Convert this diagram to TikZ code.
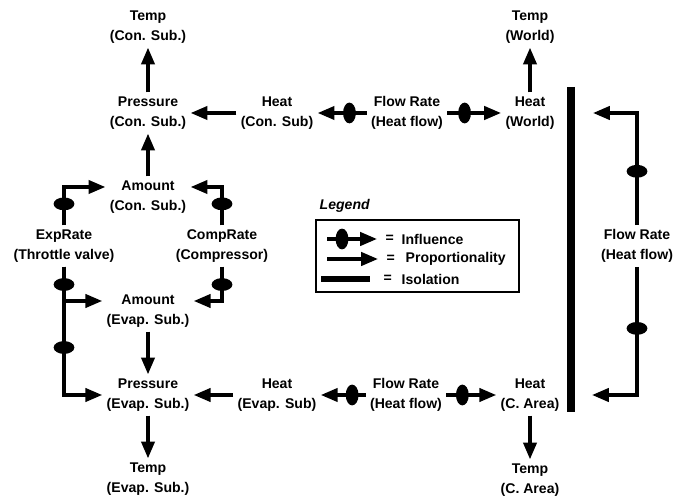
\documentclass[tikz,border=0pt]{standalone}
\usepackage{fontspec}
\setmainfont{Liberation Sans}
\usetikzlibrary{arrows.meta, shapes.geometric}

\begin{document}
\begin{tikzpicture}[
    x=0.025cm, y=0.025cm,
    lbl/.style={align=center, inner sep=3pt,
                font={\fontsize{10}{14}\selectfont\bfseries}},
    leg/.style={anchor=west, inner sep=1pt,
                font={\fontsize{10}{14}\selectfont\bfseries}},
    prop/.style={-{Triangle[length=0.42cm, width=0.33cm]}, line width=2.4pt},
    infl/.style={prop},
    blob/.style={ellipse, fill, sloped, inner sep=0pt,
                 minimum width=0.32cm, minimum height=0.52cm},
    iso/.style={line width=0.2cm}
  ]
  \useasboundingbox (0,0) rectangle (676,499);

  % Condenser substance
  \node[lbl] (tempc) at (148,472) {Temp\\(Con. Sub.)};
  \node[lbl] (presc) at (148,386) {Pressure\\(Con. Sub.)};
  \node[lbl] (heatc) at (277,386) {Heat\\(Con. Sub)};
  \node[lbl] (flowc) at (407,386) {Flow Rate\\(Heat flow)};
  \node[lbl] (heatw) at (530,386) {Heat\\(World)};
  \node[lbl] (tempw) at (530,472) {Temp\\(World)};
  \node[lbl] (amtc) at (148,302) {Amount\\(Con. Sub.)};

  % Valve and compressor
  \node[lbl] (exprt) at (64,253) {ExpRate\\(Throttle valve)};
  \node[lbl] (comprt) at (222,253) {CompRate\\(Compressor)};

  % Evaporator substance
  \node[lbl] (amte) at (148,188) {Amount\\(Evap. Sub.)};
  \node[lbl] (prese) at (148,104) {Pressure\\(Evap. Sub.)};
  \node[lbl] (tempev) at (148,20) {Temp\\(Evap. Sub.)};
  \node[lbl] (heate) at (277,104) {Heat\\(Evap. Sub)};
  \node[lbl] (flowe) at (406,104) {Flow Rate\\(Heat flow)};
  \node[lbl] (heata) at (530,104) {Heat\\(C. Area)};
  \node[lbl] (tempa) at (530,19) {Temp\\(C. Area)};

  % Outside flow
  \node[lbl] (flowr) at (637,253) {Flow Rate\\(Heat flow)};
  \coordinate (isotop) at (593,386);
  \coordinate (isobot) at (592,104);

  % Isolation wall
  \coordinate (bartop) at (571,412);
  \coordinate (barbot) at (571,87);
  \draw[iso] (bartop) -- (barbot);

  % Upper wiring
  \draw[prop] (presc) -- (tempc);
  \draw[prop] (amtc) -- (presc);
  \draw[prop] (heatc) -- (presc);
  \draw[infl] (flowc) -- node[blob, pos=0.35] {} (heatc);
  \draw[infl] (flowc) -- node[blob, pos=0.32] {} (heatw);
  \draw[prop] (heatw) -- (tempw);
  \draw[infl] (exprt.north) |- node[blob, pos=0.28] {} ([yshift=0.25cm]amtc.west);
  \draw[infl] (comprt.north) |- node[blob, pos=0.28] {} ([yshift=0.25cm]amtc.east);

  % Lower wiring
  \draw[infl] (exprt.south) |- node[blob, pos=0.26] {} ([yshift=0.25cm]amte.west);
  \draw[infl] (exprt.south) |- node[blob, pos=0.315] {} (prese.west);
  \draw[infl] (comprt.south) |- node[blob, pos=0.26] {} ([yshift=0.25cm]amte.east);
  \draw[prop] (amte) -- (prese);
  \draw[prop] (prese) -- (tempev);
  \draw[prop] (heate) -- (prese);
  \draw[infl] (flowe) -- node[blob, pos=0.3] {} (heate);
  \draw[infl] (flowe) -- node[blob, pos=0.32] {} (heata);
  \draw[prop] (heata) -- (tempa);

  % Right wiring
  \draw[infl] (flowr.north) |- node[blob, pos=0.24] {} (isotop);
  \draw[infl] (flowr.south) |- node[blob, pos=0.24] {} (isobot);

  % Legend
  \node[leg, font={\fontsize{10}{14}\selectfont\bfseries\itshape}] (legtitle) at (318,293) {Legend};
  \node[draw, line width=1.4pt, minimum width=5.075cm, minimum height=1.8cm] (legbox) at (417.5,243) {};
  \coordinate (infa) at (327,260);
  \coordinate (infb) at (377,260);
  \draw[infl] (infa) -- node[blob, pos=0.3] {} (infb);
  \node[leg] (infeq) at (384,260) {=};
  \node[leg] (inftxt) at (400,260) {Influence};
  \coordinate (propa) at (327,240);
  \coordinate (propb) at (378,240);
  \draw[prop] (propa) -- (propb);
  \node[leg] (propeq) at (385,240) {=};
  \node[leg] (proptxt) at (404,240) {Proportionality};
  \coordinate (isoa) at (321,220);
  \coordinate (isob) at (370,220);
  \draw[iso, line width=0.15cm] (isoa) -- (isob);
  \node[leg] (isoeq) at (382,220) {=};
  \node[leg] (isotxt) at (400,220) {Isolation};
\end{tikzpicture}
\end{document}
